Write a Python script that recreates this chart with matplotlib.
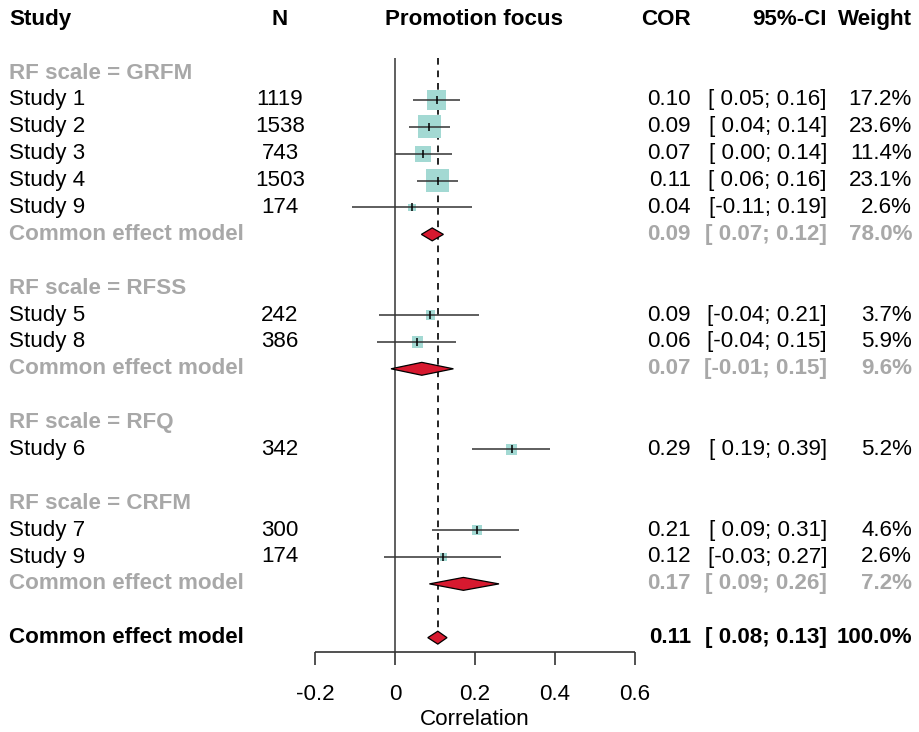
import matplotlib
matplotlib.use("Agg")
import matplotlib.pyplot as plt
from matplotlib.patches import Polygon
from matplotlib.transforms import blended_transform_factory

plt.rcParams['font.family'] = ['Liberation Sans', 'DejaVu Sans']

# ---- data -----------------------------------------------------------------
studies = ["Study 1", "Study 2", "Study 3", "Study 4", "Study 9",
           "Study 5", "Study 8", "Study 6", "Study 7", "Study 9"]
n_obs = [1119, 1538, 743, 1503, 174, 242, 386, 342, 300, 174]
group = ["GRFM"] * 5 + ["RFSS"] * 2 + ["RFQ"] + ["CRFM"] * 2
cor = [0.104, 0.086, 0.071, 0.107, 0.043, 0.088, 0.056, 0.292, 0.206, 0.121]
ci_lo = [0.046, 0.036, 0.001, 0.056, -0.107, -0.040, -0.044, 0.192, 0.093, -0.028]
ci_hi = [0.163, 0.138, 0.143, 0.158, 0.192, 0.211, 0.152, 0.388, 0.310, 0.266]
weight = [17.2, 23.6, 11.4, 23.1, 2.6, 3.7, 5.9, 5.2, 4.6, 2.6]

sub_names = ["GRFM", "RFSS", "RFQ", "CRFM"]
# pooled subgroup results (RFQ has a single study, no pooled row)
sub_pooled = {"GRFM": (0.093, 0.066, 0.121, 78.0),
              "RFSS": (0.067, -0.010, 0.146, 9.6),
              "CRFM": (0.171, 0.086, 0.260, 7.2)}
overall = (0.107, 0.082, 0.130, 100.0)

ticks = [-0.2, 0, 0.2, 0.4, 0.6]
tick_labels = ["-0.2", "0", "0.2", "0.4", "0.6"]

# ---- layout ---------------------------------------------------------------
W, H = 919, 732
fig = plt.figure(figsize=(W / 100, H / 100), dpi=100)
ax = fig.add_axes([0, 0, 1, 1])
ax.axis("off")
# 400 px per correlation unit, zero at x=395 px; 26.885 px per row, row 0 at y=19.3 px
ax.set_xlim(-395 / 400, (W - 395) / 400)
ax.set_ylim((H - 19.3) / 26.885, -19.3 / 26.885)

tr = blended_transform_factory(ax.transAxes, ax.transData)
FS = 16.1
GRAY = "#a8a8a8"
SQ = "#a3d9d3"
RED = "#d7192f"
LINE = "#333333"

def col(px):
    return px / W

def row_text(r, name, n, c, lo, hi, w, color="black", weight_="normal"):
    kw = dict(transform=tr, fontsize=FS, color=color, fontweight=weight_, va="center")
    ax.text(col(9), r, name, ha="left", **kw)
    if n is not None:
        ax.text(col(280), r, str(n), ha="center", **kw)
    ax.text(col(691), r, f"{c:.2f}", ha="right", **kw)
    ax.text(col(827), r, f"[{lo:5.2f}; {hi:4.2f}]", ha="right", **kw)
    ax.text(col(912), r, f"{w:.1f}%", ha="right", **kw)

def diamond(r, c, lo, hi):
    ax.add_patch(Polygon([(lo, r), (c, r - 0.24), (hi, r), (c, r + 0.24)],
                         closed=True, facecolor=RED, edgecolor="black", lw=0.9, zorder=4))

# header
hk = dict(transform=tr, fontsize=FS, fontweight="bold", va="center")
ax.text(col(9), 0, "Study", ha="left", **hk)
ax.text(col(280), 0, "N", ha="center", **hk)
ax.text(col(474), 0, "Promotion focus", ha="center", **hk)
ax.text(col(691), 0, "COR", ha="right", **hk)
ax.text(col(827), 0, "95%-CI", ha="right", **hk)
ax.text(col(912), 0, "Weight", ha="right", **hk)

r = 2
for g in sub_names:
    ax.text(col(9), r, f"RF scale = {g}", transform=tr, fontsize=FS,
            fontweight="bold", color=GRAY, ha="left", va="center")
    r += 1
    for i in [k for k in range(len(studies)) if group[k] == g]:
        ax.hlines(r, ci_lo[i], ci_hi[i], color=LINE, lw=1.1, zorder=3)
        ax.scatter([cor[i]], [r], marker="s", s=11.6 * weight[i], color=SQ,
                   edgecolors="none", zorder=2)
        ax.scatter([cor[i]], [r], marker="|", s=40, color="black", lw=1.1, zorder=4)
        row_text(r, studies[i], n_obs[i], cor[i], ci_lo[i], ci_hi[i], weight[i])
        r += 1
    if g in sub_pooled:
        c, lo, hi, w = sub_pooled[g]
        diamond(r, c, lo, hi)
        row_text(r, "Common effect model", None, c, lo, hi, w, color=GRAY, weight_="bold")
        r += 1
    r += 1

c, lo, hi, w = overall
diamond(r, c, lo, hi)
row_text(r, "Common effect model", None, c, lo, hi, w, weight_="bold")

# reference lines
axis_row = 23.53
ax.vlines(0, 1.44, axis_row, color="#444444", lw=1.2, zorder=1)
ax.vlines(c, 1.44, r - 0.24, color="black", lw=1.2, linestyles=(0, (4, 3.5)), zorder=1)

# x axis
ax.hlines(axis_row, ticks[0], ticks[-1], color=LINE, lw=1.2)
ax.vlines(ticks, axis_row, axis_row + 0.49, color=LINE, lw=1.2)
for t, lab in zip(ticks, tick_labels):
    ax.text(t, 25.13, lab, ha="center", va="center", fontsize=FS)
ax.text(0.2, 26.06, "Correlation", ha="center", va="center", fontsize=FS)

fig.savefig("out.png", dpi=100)
